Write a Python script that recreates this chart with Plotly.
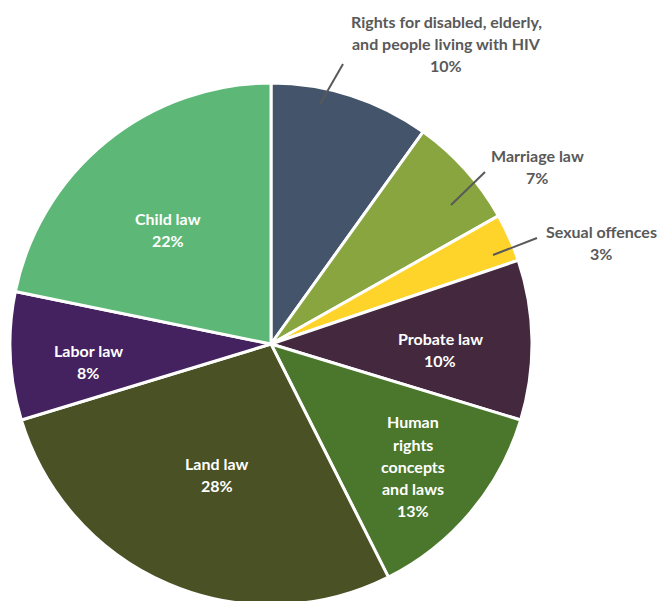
import plotly.graph_objects as go

# ---------------- data ----------------
categories = [
    "Rights for disabled, elderly, and people living with HIV",
    "Marriage law",
    "Sexual offences",
    "Probate law",
    "Human rights concepts and laws",
    "Land law",
    "Labor law",
    "Child law",
]
values = [10, 7, 3, 10, 13, 28, 8, 22]
pct_labels = ["10%", "7%", "3%", "10%", "13%", "28%", "8%", "22%"]
label_lines = [
    ["Rights for disabled, elderly,", "and people living with HIV"],
    ["Marriage law"],
    ["Sexual offences"],
    ["Probate law"],
    ["Human", "rights", "concepts", "and laws"],
    ["Land law"],
    ["Labor law"],
    ["Child law"],
]

# ---------------- style ----------------
W, H = 658, 610
colors = ["#44546A", "#89A540", "#FFD42A", "#44293E", "#4A772B",
          "#4A5125", "#44215F", "#5DB877"]
outside = [True, True, True, False, False, False, False, False]
# label block centres in pixels (x, y)
label_pos = [(446, 44), (537, 167), (601, 243), (440, 349),
             (413, 466), (217, 474), (88, 362), (168, 229)]
# leader lines in pixels for outside labels
leaders = {0: ((320, 104), (343, 64)),
           1: ((451, 205), (485, 172)),
           2: ((493, 255), (537, 238))}
LINE_H = 22
FONT = "Lato"
FSIZE = 16

def px(x):
    return x / W

def py(y):
    return 1 - y / H

# pie geometry: centre (271, 344), radius 261 px
cx, cy, r = 271, 344, 261

fig = go.Figure(go.Pie(
    labels=categories,
    values=values,
    sort=False,
    direction="clockwise",
    rotation=0,
    marker=dict(colors=colors, line=dict(color="white", width=3)),
    textinfo="none",
    hoverinfo="label+percent",
    showlegend=False,
    domain=dict(x=[px(cx - r), px(cx + r)], y=[py(cy + r), py(cy - r)]),
))

annotations = []
shapes = []
for i, lines in enumerate(label_lines):
    all_lines = lines + [pct_labels[i]]
    x0, y0 = label_pos[i]
    n = len(all_lines)
    col = "#595959" if outside[i] else "white"
    for j, t in enumerate(all_lines):
        yy = y0 + (j - (n - 1) / 2) * LINE_H
        annotations.append(dict(
            x=px(x0), y=py(yy), xref="paper", yref="paper",
            text="<b>" + t + "</b>", showarrow=False,
            xanchor="center", yanchor="middle",
            font=dict(family=FONT, size=FSIZE, color=col),
        ))
for i, ((x1, y1), (x2, y2)) in leaders.items():
    shapes.append(dict(type="line", xref="paper", yref="paper",
                       x0=px(x1), y0=py(y1), x1=px(x2), y1=py(y2),
                       line=dict(color="#595959", width=2)))

fig.update_layout(
    width=W, height=H,
    margin=dict(l=0, r=0, t=0, b=0),
    paper_bgcolor="white",
    plot_bgcolor="white",
    annotations=annotations,
    shapes=shapes,
)

fig.write_html(
    "out.html",
    post_script="document.documentElement.style.overflow='hidden';document.body.style.overflow='hidden';",
)
